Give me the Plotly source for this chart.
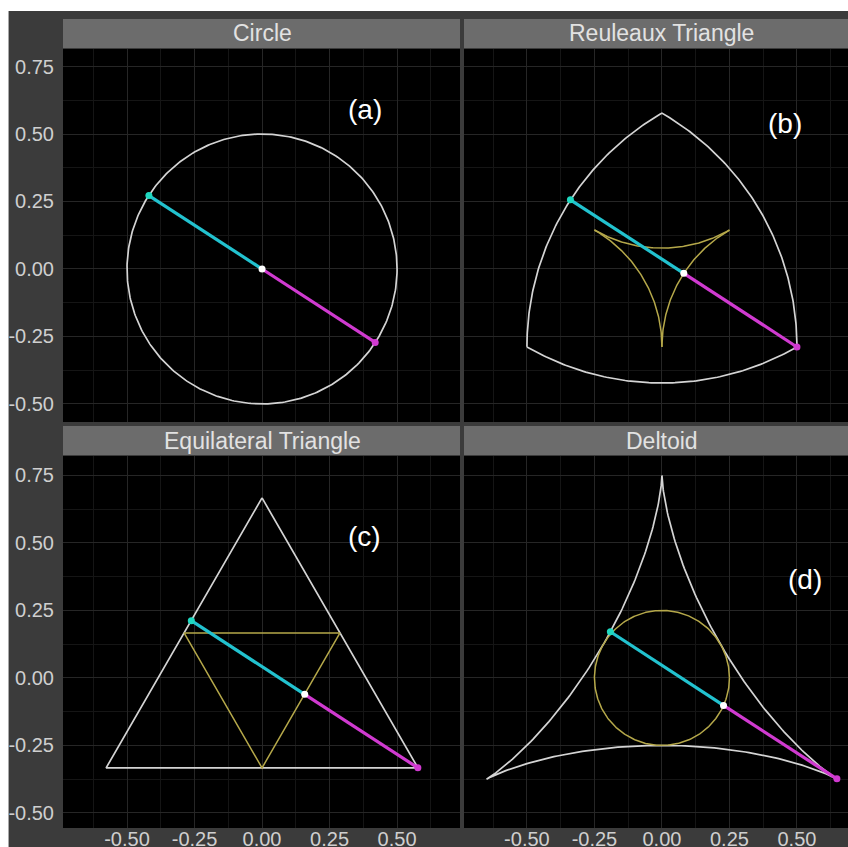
import numpy as np
import plotly.graph_objects as go

W, H = 848, 847

# ---------------- data ----------------
panel_titles = ["Circle", "Reuleaux Triangle", "Equilateral Triangle", "Deltoid"]
panel_tags = ["(a)", "(b)", "(c)", "(d)"]
tag_x = [0.38, 0.455, 0.38, 0.53]
tag_y = [0.59, 0.54, 0.525, 0.365]

circle_radius = 0.5
reuleaux_width = 1.0
triangle_height = 1.0
deltoid_r = 0.25

# diameter segment per panel: cyan end, midpoint (white), magenta end
seg_start_x = [-0.419, -0.339, -0.262, -0.191]
seg_start_y = [0.272, 0.256, 0.212, 0.171]
seg_mid_x = [0.0, 0.081, 0.158, 0.228]
seg_mid_y = [0.0, -0.016, -0.061, -0.102]
seg_end_x = [0.419, 0.5, 0.577, 0.648]
seg_end_y = [-0.272, -0.289, -0.333, -0.374]

tick_vals = [-0.5, -0.25, 0.0, 0.25, 0.5, 0.75]
tick_text = ["-0.50", "-0.25", "0.00", "0.25", "0.50", "0.75"]

# ---------------- style ----------------
BG = "#3b3b3b"
STRIP = "#6c6c6c"
STRIP_TXT = "#e2e2e2"
TICK_TXT = "#cfcfcf"
WHITE_CURVE = "#d4d4d4"
YELLOW = "#b5a84a"
CYAN = "#22c2cf"
CYAN_PT = "#1fd8c0"
MAGENTA = "#d03ad0"
FONT = "Liberation Sans, Arial, sans-serif"


def px_x(p):
    return p / W


def px_y(p):
    return 1 - p / H


# panel pixel boxes
left_x = (63, 460)
right_x = (464, 848)
top_y = (49, 422)
bot_y = (456, 828)
top_strip = (19, 48)
bot_strip = (426, 455)

x_ranges = {"L": [-0.737, 0.733], "R": [-0.733, 0.689]}
y_ranges = {"T": [-0.567, 0.815], "B": [-0.556, 0.822]}

fig = go.Figure()

axes = [("x", "y"), ("x2", "y2"), ("x3", "y3"), ("x4", "y4")]


def add_line(k, xs, ys, color, width):
    fig.add_trace(go.Scatter(x=xs, y=ys, mode="lines", xaxis=axes[k][0], yaxis=axes[k][1],
                             line=dict(color=color, width=width), hoverinfo="skip",
                             showlegend=False))


# (a) circle
t = np.linspace(0, 2 * np.pi, 400)
add_line(0, circle_radius * np.cos(t), circle_radius * np.sin(t), WHITE_CURVE, 1.7)

# (b) Reuleaux triangle and midpoint locus
Rv = reuleaux_width / np.sqrt(3)
vang = np.radians([90, 210, 330])
vx, vy = Rv * np.cos(vang), Rv * np.sin(vang)
rx, ry, yx, yy = [], [], [], []
for k in range(3):
    a = np.linspace(vang[k] + np.radians(150), vang[k] + np.radians(210), 120)
    rx += list(vx[k] + reuleaux_width * np.cos(a))
    ry += list(vy[k] + reuleaux_width * np.sin(a))
    yx += list(vx[k] + reuleaux_width / 2 * np.cos(a)) + [None]
    yy += list(vy[k] + reuleaux_width / 2 * np.sin(a)) + [None]
rx.append(rx[0]); ry.append(ry[0])
add_line(1, rx, ry, WHITE_CURVE, 1.7)
add_line(1, yx, yy, YELLOW, 1.5)

# (c) equilateral triangle and medial triangle
Rt = 2 * triangle_height / 3
ta = np.radians([90, 210, 330, 90])
add_line(2, Rt * np.cos(ta), Rt * np.sin(ta), WHITE_CURVE, 1.7)
ma = np.radians([30, 150, 270, 30])
add_line(2, Rt / 2 * np.cos(ma), Rt / 2 * np.sin(ma), YELLOW, 1.5)

# (d) deltoid and incircle
x0 = 2 * deltoid_r * np.cos(t) + deltoid_r * np.cos(2 * t)
y0 = 2 * deltoid_r * np.sin(t) - deltoid_r * np.sin(2 * t)
add_line(3, -y0, x0, WHITE_CURVE, 1.7)
add_line(3, deltoid_r * np.cos(t), deltoid_r * np.sin(t), YELLOW, 1.5)

# segments and points
for k in range(4):
    add_line(k, [seg_start_x[k], seg_mid_x[k]], [seg_start_y[k], seg_mid_y[k]], CYAN, 3.2)
    add_line(k, [seg_mid_x[k], seg_end_x[k]], [seg_mid_y[k], seg_end_y[k]], MAGENTA, 3.2)
    fig.add_trace(go.Scatter(
        x=[seg_start_x[k], seg_end_x[k], seg_mid_x[k]],
        y=[seg_start_y[k], seg_end_y[k], seg_mid_y[k]],
        mode="markers", xaxis=axes[k][0], yaxis=axes[k][1],
        marker=dict(color=[CYAN_PT, MAGENTA, "#ffffff"], size=7, line=dict(width=0)),
        hoverinfo="skip", showlegend=False))

# ---------------- layout ----------------
layout = dict(
    width=W, height=H, margin=dict(l=0, r=0, t=0, b=0, autoexpand=False),
    paper_bgcolor="#ffffff", plot_bgcolor="#000000",
    font=dict(family=FONT, color=TICK_TXT, size=20),
    showlegend=False,
)

panel_defs = [
    ("", "", left_x, top_y, "L", "T", False, True),
    ("2", "2", right_x, top_y, "R", "T", False, False),
    ("3", "3", left_x, bot_y, "L", "B", True, True),
    ("4", "4", right_x, bot_y, "R", "B", True, False),
]

grid_major = "#262626"
grid_minor = "#151515"

shapes = []
# dark figure background (below everything) with white border top/left
shapes.append(dict(type="rect", xref="paper", yref="paper", x0=px_x(8), x1=1,
                   y0=0, y1=px_y(11), fillcolor=BG, line=dict(width=0), layer="below"))
shapes.append(dict(type="line", xref="paper", yref="paper", x0=px_x(8.5), x1=px_x(8.5),
                   y0=0, y1=px_y(11), line=dict(color="#a8a8a8", width=1), layer="below"))

for xs, ys, xb, yb, xr, yr, show_x, show_y in panel_defs:
    layout["xaxis" + xs] = dict(
        domain=[px_x(xb[0]), px_x(xb[1])], range=x_ranges[xr], anchor="y" + ys,
        automargin=False,
        showgrid=True, gridcolor=grid_major, gridwidth=1, zeroline=False, showline=False,
        tickmode="array", tickvals=tick_vals, ticktext=tick_text,
        showticklabels=show_x, ticks="", ticklabelstandoff=-3,
        tickfont=dict(size=20, color=TICK_TXT, family=FONT),
        minor=dict(tickmode="array", tickvals=[-0.625, -0.375, -0.125, 0.125, 0.375, 0.625],
                   showgrid=True, gridcolor=grid_minor, gridwidth=1, ticks=""),
        fixedrange=True,
    )
    layout["yaxis" + ys] = dict(
        domain=[px_y(yb[1]), px_y(yb[0])], range=y_ranges[yr], anchor="x" + xs,
        automargin=False,
        showgrid=True, gridcolor=grid_major, gridwidth=1, zeroline=False, showline=False,
        tickmode="array", tickvals=tick_vals, ticktext=tick_text,
        showticklabels=show_y, ticks="outside" if show_y else "", ticklen=4,
        tickcolor="rgba(0,0,0,0)",
        tickfont=dict(size=20, color=TICK_TXT, family=FONT),
        minor=dict(tickmode="array", tickvals=[-0.375, -0.125, 0.125, 0.375, 0.625],
                   showgrid=True, gridcolor=grid_minor, gridwidth=1, ticks=""),
        fixedrange=True,
    )
    # black panel background (drawn over the dark figure background, below grid)
    shapes.append(dict(type="rect", xref="paper", yref="paper",
                       x0=px_x(xb[0]), x1=px_x(xb[1]), y0=px_y(yb[1]), y1=px_y(yb[0]),
                       fillcolor="#000000", line=dict(width=0), layer="below"))

annotations = []
strip_boxes = [(left_x, top_strip, "x"), (right_x, top_strip, "x2"),
               (left_x, bot_strip, "x3"), (right_x, bot_strip, "x4")]
for k, (xb, sb, xref) in enumerate(strip_boxes):
    shapes.append(dict(type="rect", xref="paper", yref="paper",
                       x0=px_x(xb[0]), x1=px_x(xb[1]), y0=px_y(sb[1]), y1=px_y(sb[0]),
                       fillcolor=STRIP, line=dict(width=0), layer="above"))
    annotations.append(dict(text=panel_titles[k], xref=xref, yref="paper", x=0,
                            y=px_y((sb[0] + sb[1]) / 2), showarrow=False,
                            xanchor="center", yanchor="middle",
                            font=dict(size=23, color=STRIP_TXT, family=FONT)))
    annotations.append(dict(text=panel_tags[k], xref=axes[k][0], yref=axes[k][1],
                            x=tag_x[k], y=tag_y[k], showarrow=False,
                            xanchor="center", yanchor="middle",
                            font=dict(size=28, color="#ffffff", family=FONT)))

layout["shapes"] = shapes
layout["annotations"] = annotations
fig.update_layout(**layout)

fig.write_html(
    "out.html",
    config={"displayModeBar": False},
    post_script="document.body.style.margin='0';document.body.style.overflow='hidden';"
                "document.documentElement.style.overflow='hidden';",
)
